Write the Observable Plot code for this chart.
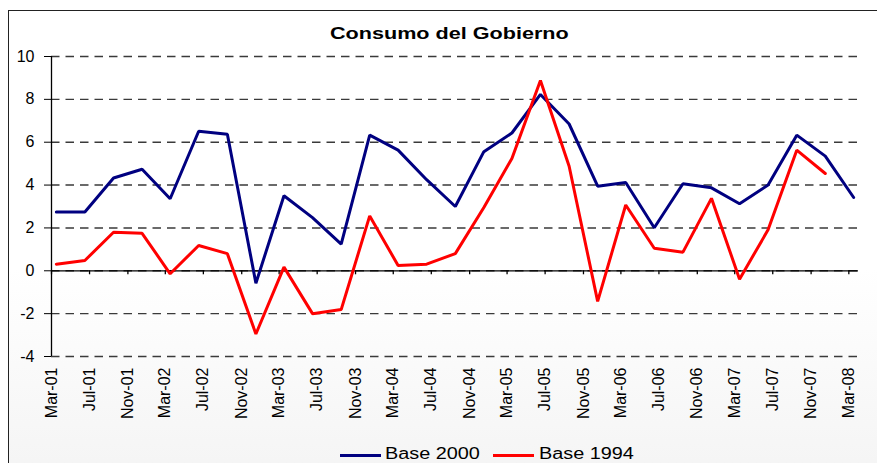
<!DOCTYPE html>
<html><head><meta charset="utf-8">
<script src="https://cdn.jsdelivr.net/npm/d3@7"></script>
<script src="https://cdn.jsdelivr.net/npm/@observablehq/plot@0.6"></script>
<style>
body{margin:0;background:#fff;}
#wrap{position:relative;width:877px;height:463px;overflow:hidden;font-family:"Liberation Sans",Arial,sans-serif;}
#frame{position:absolute;left:8px;top:10px;width:900px;height:470px;border-left:1.5px solid #222;border-top:1.5px solid #222;background:linear-gradient(#ffffff 55%,#f4f4f4);}
#chart{position:absolute;left:0;top:0;}
.title{position:absolute;left:330px;top:25px;font-weight:bold;font-size:17px;line-height:17px;transform:scaleX(1.27);transform-origin:0 0;white-space:nowrap;color:#000;}
.legline{position:absolute;height:3px;width:41px;top:453.5px;}
.legtext{position:absolute;top:445.5px;font-size:16px;line-height:16px;transform:scaleX(1.24);transform-origin:0 0;white-space:nowrap;color:#000;}
</style></head>
<body>
<div id="wrap"><div id="frame"></div><div id="chart"></div></div>
<script>
const title = "Consumo del Gobierno";
const quarters = ["Mar-01","Jun-01","Sep-01","Dec-01","Mar-02","Jun-02","Sep-02","Dec-02",
  "Mar-03","Jun-03","Sep-03","Dec-03","Mar-04","Jun-04","Sep-04","Dec-04",
  "Mar-05","Jun-05","Sep-05","Dec-05","Mar-06","Jun-06","Sep-06","Dec-06",
  "Mar-07","Jun-07","Sep-07","Dec-07","Mar-08"];
const base2000 = [2.74,2.74,4.33,4.74,3.36,6.51,6.37,-0.58,
  3.50,2.48,1.24,6.33,5.63,4.25,3.00,5.56,
  6.43,8.23,6.85,3.95,4.12,2.01,4.06,3.87,
  3.13,4.00,6.33,5.35,3.42];
const base1994 = [0.31,0.48,1.80,1.75,-0.14,1.18,0.80,-2.95,
  0.17,-2.00,-1.81,2.56,0.25,0.31,0.80,2.95,
  5.24,8.88,4.88,-1.43,3.07,1.05,0.87,3.38,
  -0.39,1.91,5.63,4.54,null];
const seriesNames = ["Base 2000","Base 1994"];
const seriesColors = ["#000080","#ff0000"];
const xTickLabels = ["Mar-01","Jul-01","Nov-01","Mar-02","Jul-02","Nov-02","Mar-03","Jul-03","Nov-03",
  "Mar-04","Jul-04","Nov-04","Mar-05","Jul-05","Nov-05","Mar-06","Jul-06","Nov-06",
  "Mar-07","Jul-07","Nov-07","Mar-08"];
const yTicks = [-4,-2,0,2,4,6,8,10];

const parse = d3.utcParse("%b-%y");
const fmt = d3.utcFormat("%b-%y");
const mid = s => { const a = parse(s); const b = d3.utcMonth.offset(a,1); return new Date((+a + +b)/2); };
const rows = [];
quarters.forEach((q,i) => {
  if (base2000[i] != null) rows.push({date: mid(q), value: base2000[i], series: seriesNames[0]});
});
quarters.forEach((q,i) => {
  if (base1994[i] != null) rows.push({date: mid(q), value: base1994[i], series: seriesNames[1]});
});
const tickDates = xTickLabels.map(parse);
const xDomain = [parse(quarters[0]), d3.utcMonth.offset(parse(quarters[quarters.length-1]),1)];

const W = 877, H = 463, mT = 56, mB = 107, mL = 51, mR = 19;
const yDomain = [d3.min(yTicks), d3.max(yTicks)];
const unitsPerPx = (yDomain[1]-yDomain[0])/(H-mT-mB);
const tickLen = 4;

const chart = Plot.plot({
  width: W, height: H,
  marginTop: mT, marginBottom: mB, marginLeft: mL, marginRight: mR,
  style: {background: "transparent", fontFamily: "'Liberation Sans', Arial, sans-serif", color: "#000"},
  x: {type: "utc", domain: xDomain},
  y: {domain: yDomain},
  color: {domain: seriesNames, range: seriesColors},
  marks: [
    Plot.ruleY(yTicks, {stroke: "#3a3a3a", strokeWidth: 1.4, strokeDasharray: "8.5,6"}),
    Plot.axisY({ticks: yTicks, tickFormat: d => String(d), tickSize: 7, tickPadding: 10, fontSize: 16, label: null, stroke: "#000"}),
    Plot.ruleX([xDomain[0]], {stroke: "#000", strokeWidth: 1.3}),
    Plot.ruleY([0], {stroke: "#000", strokeWidth: 1.3}),
    Plot.ruleX(tickDates, {x: d => d, y1: 0, y2: -tickLen*unitsPerPx, stroke: "#000", strokeWidth: 1.3}),
    Plot.axisX({ticks: tickDates, tickFormat: fmt, tickSize: 0, tickPadding: 11, tickRotate: -90, fontSize: 16, label: null}),
    Plot.line(rows, {x: "date", y: "value", z: "series", stroke: "series", strokeWidth: 3, strokeLinejoin: "miter"})
  ]
});
const host = document.getElementById("chart");
host.appendChild(chart);

const wrap = document.getElementById("wrap");
const t = document.createElement("div");
t.className = "title"; t.textContent = title; wrap.appendChild(t);
const legPos = [[340,385],[493,539]];
seriesNames.forEach((n,i) => {
  const l = document.createElement("div");
  l.className = "legline"; l.style.left = legPos[i][0]+"px"; l.style.background = seriesColors[i];
  wrap.appendChild(l);
  const tx = document.createElement("div");
  tx.className = "legtext"; tx.style.left = legPos[i][1]+"px"; tx.textContent = n;
  wrap.appendChild(tx);
});
</script>
</body></html>
